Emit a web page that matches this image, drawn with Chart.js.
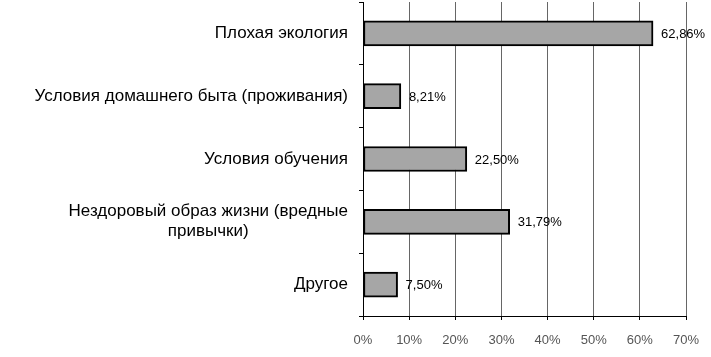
<!DOCTYPE html>
<html>
<head>
<meta charset="utf-8">
<script src="https://cdn.jsdelivr.net/npm/chart.js@4"></script>
<style>
	html, body { margin: 0; padding: 0; background: #fff; }
	#wrap { width: 711px; height: 357px; }
</style>
</head>
<body>
<div id="wrap"><canvas id="causesChart" width="711" height="357"></canvas></div>
<script>
	const categories = [
		"Плохая экология",
		"Условия домашнего быта (проживания)",
		"Условия обучения",
		["Нездоровый образ жизни (вредные", "привычки)"],
		"Другое",
	];
	const values = [62.86, 8.21, 22.5, 31.79, 7.5];
	const valueLabels = ["62,86%", "8,21%", "22,50%", "31,79%", "7,50%"];
	const xTicks = [0, 10, 20, 30, 40, 50, 60, 70];

	const fontFamily = "'Liberation Sans', Arial, sans-serif";

	// category names on the left, lines of a wrapped name centred on each other
	const categoryLabels = {
		id: "categoryLabels",
		afterDraw(chart) {
			const ctx = chart.ctx;
			const meta = chart.getDatasetMeta(0);
			const right = chart.chartArea.left - 15;
			ctx.save();
			ctx.font = "17px " + fontFamily;
			ctx.fillStyle = "#000";
			ctx.textBaseline = "middle";
			ctx.textAlign = "center";
			categories.forEach((label, i) => {
				const lines = Array.isArray(label) ? label : [label];
				const y = meta.data[i].y;
				const w = Math.max(...lines.map((l) => ctx.measureText(l).width));
				const lineH = 20;
				const top = y - ((lines.length - 1) * lineH) / 2;
				lines.forEach((line, j) => {
					ctx.fillText(line, right - w / 2, top + j * lineH);
				});
			});
			ctx.restore();
		},
	};

	const valueText = {
		id: "valueText",
		afterDatasetsDraw(chart) {
			const ctx = chart.ctx;
			const meta = chart.getDatasetMeta(0);
			ctx.save();
			ctx.font = "13px " + fontFamily;
			ctx.fillStyle = "#000";
			ctx.textBaseline = "middle";
			ctx.textAlign = "left";
			meta.data.forEach((bar, i) => {
				ctx.fillText(valueLabels[i], bar.x + 8, bar.y + 1);
			});
			ctx.restore();
		},
	};

	const ctx = document.getElementById("causesChart").getContext("2d");
	const myChart = new Chart(ctx, {
		type: "bar",
		data: {
			labels: categories,
			datasets: [
				{
					data: values,
					backgroundColor: "#a6a6a6",
					borderColor: "#000",
					borderWidth: 2,
					borderSkipped: false,
					barThickness: 25,
				},
			],
		},
		options: {
			indexAxis: "y",
			responsive: false,
			animation: false,
			layout: { padding: { top: 2, right: 0, left: 0, bottom: 0 } },
			plugins: {
				legend: { display: false },
				tooltip: { enabled: false },
			},
			scales: {
				x: {
					min: 0,
					max: 70,
					afterBuildTicks: (scale) => {
						scale.ticks = xTicks.map((v) => ({ value: v }));
					},
					afterFit: (scale) => {
						scale.height = 41;
						scale.paddingRight = 25;
					},
					ticks: {
						callback: (v) => v + "%",
						color: "#555",
						padding: 13,
						font: { family: fontFamily, size: 13 },
					},
					grid: {
						color: "#666",
						tickColor: "#000",
						tickLength: 4,
						lineWidth: 1,
					},
					border: { color: "#000", width: 1 },
				},
				y: {
					afterFit: (scale) => {
						scale.width = 363;
					},
					ticks: { display: false },
					grid: {
						drawOnChartArea: false,
						tickColor: "#000",
						tickLength: 4,
					},
					border: { color: "#000", width: 1 },
				},
			},
		},
		plugins: [categoryLabels, valueText],
	});
</script>
</body>
</html>
